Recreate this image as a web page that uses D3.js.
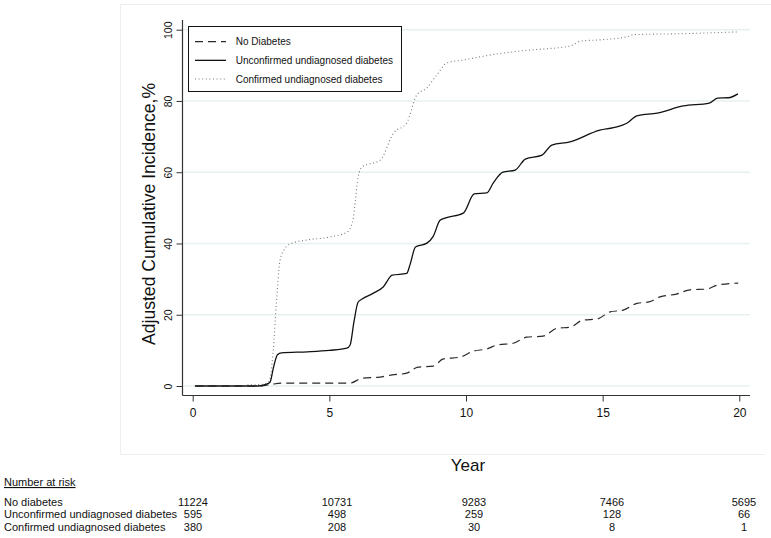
<!DOCTYPE html>
<html>
<head>
<meta charset="utf-8">
<script src="https://cdn.jsdelivr.net/npm/d3@7"></script>
<style>
  html, body { margin: 0; padding: 0; background: #fff; }
  svg { display: block; font-family: "Liberation Sans", Arial, sans-serif; }
</style>
</head>
<body>
<svg id="chart" width="771" height="538"></svg>
<script>
// ---------- data ----------
const seriesNames = ["No Diabetes", "Unconfirmed undiagnosed diabetes", "Confirmed undiagnosed diabetes"];

const noDiabetesYears = [0.1, 2.5, 2.9, 3.3, 5.75, 6.2, 6.85, 7.3, 7.83, 8.24, 8.8, 9.17, 9.78, 10.27, 10.76, 11.13, 11.73, 12.22, 12.82, 13.33, 13.8, 14.28, 14.8, 15.27, 15.75, 16.26, 16.7, 17.1, 17.7, 18.2, 18.8, 19.2, 19.96];
const noDiabetesValues = [0, 0, 0.5, 0.8, 0.8, 2.2, 2.5, 3.1, 3.6, 5.3, 5.6, 7.6, 8.1, 9.8, 10.4, 11.5, 12.0, 13.7, 14.0, 16.2, 16.5, 18.5, 18.8, 20.8, 21.3, 23.2, 23.6, 25.0, 25.8, 27.0, 27.2, 28.3, 28.9];

const unconfirmedYears = [0.08, 2.4, 2.7, 2.83, 2.95, 3.1, 3.25, 4.2, 5.0, 5.64, 5.76, 5.9, 6.05, 6.2, 6.6, 6.97, 7.3, 7.83, 7.95, 8.15, 8.57, 8.8, 9.05, 9.23, 9.9, 10.3, 10.76, 11.0, 11.35, 11.8, 12.17, 12.78, 13.14, 13.8, 14.9, 15.4, 15.9, 16.25, 17.0, 17.95, 18.9, 19.2, 19.6, 19.95];
const unconfirmedValues = [0, 0, 0.5, 1.1, 5, 8.8, 9.3, 9.6, 10.0, 10.6, 11.5, 18, 23.5, 24.4, 26.0, 27.8, 31.1, 31.6, 34, 39, 40.1, 42, 46.5, 47.1, 48.5, 53.9, 54.2, 57, 60.0, 60.6, 63.7, 64.8, 67.6, 68.5, 71.8, 72.5, 73.8, 75.8, 76.6, 78.6, 79.4, 80.8, 80.9, 82.0];

const confirmedYears = [2.0, 2.6, 2.8, 2.94, 3.06, 3.19, 3.34, 3.6, 4.2, 5.0, 5.65, 5.85, 5.95, 6.05, 6.2, 6.86, 7.35, 7.83, 8.2, 8.56, 8.93, 9.31, 9.9, 11.13, 12.35, 13.8, 14.2, 15.0, 16.0, 16.1, 18.0, 20.0];
const confirmedValues = [0.3, 0.5, 1.4, 9.3, 23, 35, 38.2, 40, 41, 41.8, 43.2, 46, 52, 58.5, 61.5, 63.4, 71, 73.8, 81.7, 83.6, 87.3, 90.7, 91.5, 93.2, 94.3, 95.4, 96.8, 97.2, 98.2, 98.6, 98.9, 99.4];

const xTicks = [0, 5, 10, 15, 20];
const yTicks = [0, 20, 40, 60, 80, 100];

const riskTitle = "Number at risk";
const riskLabels = ["No diabetes", "Unconfirmed undiagnosed diabetes", "Confirmed undiagnosed diabetes"];
const riskNoDiabetes = [11224, 10731, 9283, 7466, 5695];
const riskUnconfirmed = [595, 498, 259, 128, 66];
const riskConfirmed = [380, 208, 30, 8, 1];

const xTitle = "Year";
const yTitle = "Adjusted Cumulative Incidence,%";

// ---------- layout ----------
const svg = d3.select("#chart");
const FONT = "'Liberation Sans', Arial, sans-serif";

const x = d3.scaleLinear().domain([0, 20]).range([192.7, 739.3]);
const y = d3.scaleLinear().domain([0, 100]).range([386, 29.7]);
const axisY = 395.5, axisX = 182.5;
const plotRight = 750;

// outer graph region box (faint)
svg.append("path")
  .attr("d", `M771,4.5 H120.5 V454.5 H765`)
  .attr("fill", "none").attr("stroke", "#eeeeee").attr("stroke-width", 1);

// gridlines
svg.append("g").selectAll("line").data(yTicks).join("line")
  .attr("x1", axisX + 1).attr("x2", plotRight)
  .attr("y1", d => y(d)).attr("y2", d => y(d))
  .attr("stroke", "#e6f0f1").attr("stroke-width", 1.5);

// x axis
const gx = svg.append("g").attr("transform", `translate(0,${axisY})`)
  .call(d3.axisBottom(x).tickValues(xTicks).tickSize(6).tickPadding(6.8).tickSizeOuter(0));
gx.select(".domain").remove();
gx.selectAll(".tick line").attr("stroke", "#333");
gx.selectAll(".tick text").attr("font-size", 12).attr("font-family", FONT).attr("fill", "#111");
svg.append("line").attr("x1", axisX).attr("x2", plotRight).attr("y1", axisY).attr("y2", axisY)
  .attr("stroke", "#333").attr("stroke-width", 1.2);

// y axis
const gy = svg.append("g").attr("transform", `translate(${axisX},0)`)
  .call(d3.axisLeft(y).tickValues(yTicks).tickSize(6).tickSizeOuter(0));
gy.select(".domain").remove();
gy.selectAll(".tick line").attr("stroke", "#333");
gy.selectAll(".tick text")
  .attr("font-size", 10.5).attr("font-family", FONT).attr("fill", "#111")
  .attr("x", null).attr("dy", null)
  .attr("text-anchor", "middle")
  .attr("transform", "translate(-10.5,0) rotate(-90)");
svg.append("line").attr("x1", axisX).attr("x2", axisX).attr("y1", 20).attr("y2", axisY)
  .attr("stroke", "#333").attr("stroke-width", 1.2);

// axis titles
svg.append("text").attr("x", 468).attr("y", 470.7).attr("text-anchor", "middle")
  .attr("font-size", 17).attr("font-family", FONT).attr("fill", "#111").text(xTitle);
svg.append("text").attr("transform", "translate(155,214) rotate(-90)").attr("text-anchor", "middle")
  .attr("font-size", 17.6).attr("font-family", FONT).attr("fill", "#111").text(yTitle);

// curves
const line = d3.line().x(d => x(d[0])).y(d => y(d[1])).curve(d3.curveMonotoneX);
const styles = [
  { stroke: "#2a2a2a", width: 1.2, dash: "8,5" },
  { stroke: "#111111", width: 1.3, dash: null },
  { stroke: "#7a7a7a", width: 1.1, dash: "1,2.6" }
];
const series = [
  d3.zip(noDiabetesYears, noDiabetesValues),
  d3.zip(unconfirmedYears, unconfirmedValues),
  d3.zip(confirmedYears, confirmedValues)
];
// draw confirmed first, then dashed, then solid on top
[2, 0, 1].forEach(i => {
  svg.append("path").datum(series[i])
    .attr("d", line).attr("fill", "none")
    .attr("stroke", styles[i].stroke).attr("stroke-width", styles[i].width)
    .attr("stroke-dasharray", styles[i].dash);
});

// legend
const lg = svg.append("g");
lg.append("rect").attr("x", 188.5).attr("y", 26.5).attr("width", 213).attr("height", 65)
  .attr("fill", "#fff").attr("stroke", "#111").attr("stroke-width", 1);
const legendY = d3.scalePoint().domain(seriesNames).range([41.7, 79]);
seriesNames.forEach((name, i) => {
  lg.append("line").attr("x1", 195).attr("x2", 226)
    .attr("y1", legendY(name)).attr("y2", legendY(name))
    .attr("stroke", styles[i].stroke).attr("stroke-width", styles[i].width)
    .attr("stroke-dasharray", styles[i].dash);
  lg.append("text").attr("x", 235.7).attr("y", legendY(name)).attr("dy", "0.35em")
    .attr("font-size", 10).attr("font-family", FONT).attr("fill", "#111").text(name);
});

// number at risk table
const tableX = d3.scaleLinear().domain(xTicks).range([193, 337, 474, 612, 744]);
const rowY = d3.scalePoint().domain(riskLabels).range([505.5, 531.2]);
svg.append("text").attr("x", 4).attr("y", 486).attr("font-size", 11).attr("font-family", FONT)
  .attr("fill", "#111").attr("text-decoration", "underline").text(riskTitle);
const riskRows = [riskNoDiabetes, riskUnconfirmed, riskConfirmed];
riskLabels.forEach((lab, r) => {
  svg.append("text").attr("x", 4).attr("y", rowY(lab)).attr("font-size", 11)
    .attr("font-family", FONT).attr("fill", "#111").text(lab);
  svg.append("g").selectAll("text").data(riskRows[r]).join("text")
    .attr("x", (d, i) => tableX(xTicks[i])).attr("y", rowY(lab))
    .attr("text-anchor", "middle").attr("font-size", 11).attr("font-family", FONT)
    .attr("fill", "#111").text(d => d);
});
</script>
</body>
</html>
